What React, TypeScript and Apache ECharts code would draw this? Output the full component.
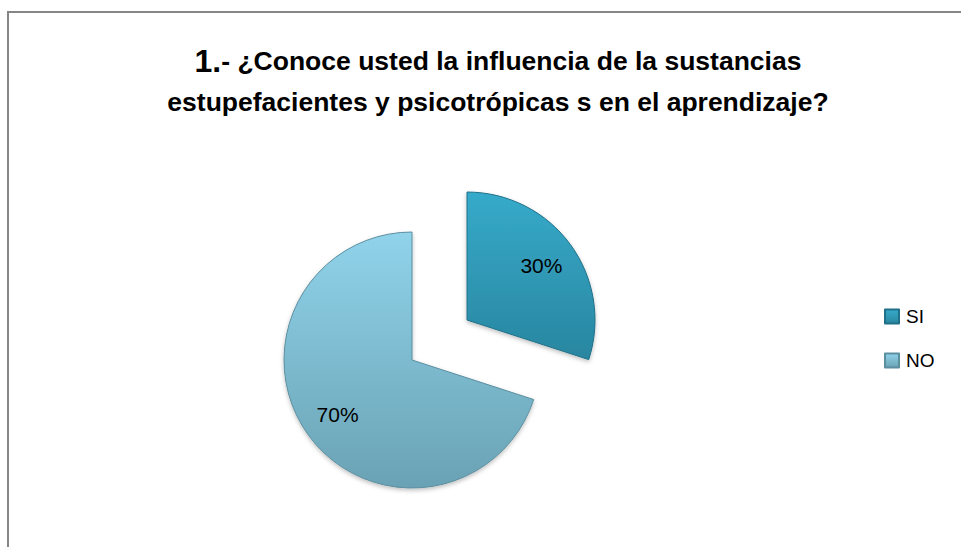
import React, { useEffect, useRef } from "react";
import * as echarts from "echarts";

const categories = ["SI", "NO"];
const values = [30, 70];
const titleNumber = "1.";
const titleLine1 = "- ¿Conoce usted la influencia de la sustancias";
const titleLine2 = "estupefacientes y psicotrópicas s en el aprendizaje?";

const grad = (top: string, bottom: string) =>
  new echarts.graphic.LinearGradient(0, 0, 0, 1, [
    { offset: 0, color: top },
    { offset: 1, color: bottom },
  ]);

export default function App() {
  const ref = useRef<HTMLDivElement>(null);
  useEffect(() => {
    if (!ref.current) return;
    const chart = echarts.init(ref.current, undefined, { renderer: "svg" });
    const colors = [
      { fill: grad("#36AACA", "#2986A0"), border: "#1F7088" },
      { fill: grad("#90D3EA", "#6AA2B4"), border: "#5B8FA0" },
    ];
    const font = "Liberation Sans, Arial, sans-serif";
    chart.setOption({
      animation: false,
      backgroundColor: "#ffffff",
      graphic: [
        {
          type: "rect",
          shape: { x: 8, y: 12, width: 1000, height: 600 },
          style: { fill: "none", stroke: "#868686", lineWidth: 2 },
          silent: true,
        },
        {
          type: "text",
          x: 498,
          y: 40,
          style: {
            text: "{a|" + titleNumber + "}{b|" + titleLine1 + "}\n{b|" + titleLine2 + "}",
            align: "center",
            verticalAlign: "top",
            fill: "#000",
            fontFamily: font,
            rich: {
              a: { fontSize: 32, fontWeight: "bold", fontFamily: font, lineHeight: 41, fill: "#000" },
              b: { fontSize: 26.5, fontWeight: "bold", fontFamily: font, lineHeight: 41, fill: "#000" },
            },
          },
        },
      ],
      legend: {
        orient: "vertical",
        left: 879,
        top: 302,
        itemWidth: 14,
        itemHeight: 14,
        itemGap: 25,
        icon: "rect",
        data: categories,
        textStyle: { fontSize: 19, color: "#000", fontFamily: font, padding: [0, 0, 0, 2] },
        selectedMode: false,
      },
      series: [
        {
          type: "pie",
          center: [412, 360],
          radius: [0, 128],
          startAngle: 90,
          clockwise: true,
          selectedMode: "single",
          selectedOffset: 68,
          silent: true,
          label: { show: false },
          labelLine: { show: false },
          data: categories.map((c, i) => ({
            name: c,
            value: values[i],
            selected: i === 0,
            itemStyle: {
              color: colors[i].fill,
              borderColor: colors[i].border,
              borderWidth: 1,
              shadowColor: "rgba(0,0,0,0.25)",
              shadowBlur: 4,
              shadowOffsetY: 2,
            },
          })),
        },
        {
          type: "pie",
          center: [412, 360],
          radius: [50, 128],
          startAngle: 90,
          clockwise: true,
          selectedMode: "single",
          selectedOffset: 68,
          silent: true,
          legendHoverLink: false,
          itemStyle: { color: "rgba(0,0,0,0)", borderWidth: 0 },
          label: {
            show: true,
            position: "inside",
            formatter: (p: any) => p.value + "%",
            fontSize: 21,
            color: "#000",
            fontFamily: font,
          },
          labelLine: { show: false },
          data: categories.map((c, i) => ({
            name: c,
            value: values[i],
            selected: i === 0,
          })),
        },
      ],
    });
    return () => chart.dispose();
  }, []);
  return (
    <div
      ref={ref}
      style={{ position: "fixed", left: 0, top: 0, width: 961, height: 547 }}
    />
  );
}
